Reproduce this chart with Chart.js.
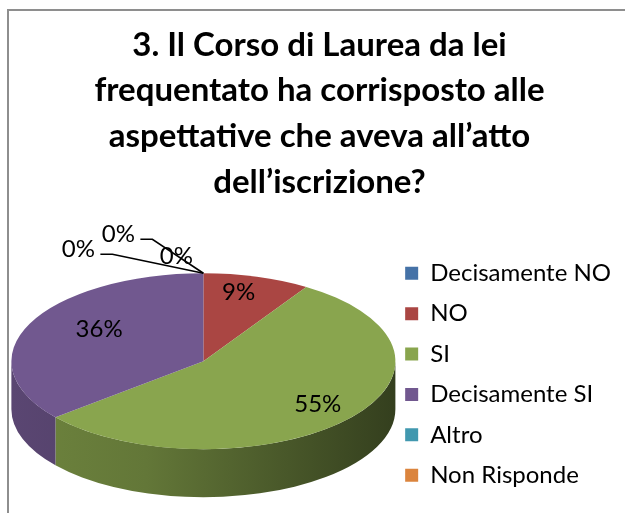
<!DOCTYPE html>
<html>
<head>
<meta charset="utf-8">
<script src="https://cdn.jsdelivr.net/npm/chart.js@4.4.1/dist/chart.umd.min.js"></script>
<style>
  body { margin: 0; background: #fff; }
  #cornice { position: absolute; left: 7px; top: 9px; width: 700px; height: 600px; border: 2px solid #8e8e8e; }
  #grafico { position: absolute; left: 0; top: 0; }
</style>
</head>
<body>
<div id="cornice"></div>
<canvas id="grafico" width="625" height="513"></canvas>
<script>
var titolo = ['3. Il Corso di Laurea da lei', 'frequentato ha corrisposto alle', 'aspettative che aveva all\u2019atto', 'dell\u2019iscrizione?'];
var categorie = ['Decisamente NO', 'NO', 'SI', 'Decisamente SI', 'Altro', 'Non Risponde'];
var valori = [0, 9, 55, 36, 0, 0];
var colori = ['#4572a7', '#aa4643', '#89a54e', '#71588f', '#4198af', '#db843d'];

var FONT = 'Lato';
var RAGGIO_X = 192;   // semiassi dell'ellisse per l'effetto 3D
var RAGGIO_Y = 88;
var SPESSORE = 48;

function scurisci(hex, f) {
    var n = parseInt(hex.slice(1), 16);
    var r = Math.round(((n >> 16) & 255) * f);
    var g = Math.round(((n >> 8) & 255) * f);
    var b = Math.round((n & 255) * f);
    return 'rgb(' + r + ',' + g + ',' + b + ')';
}

var torta3d = {
    id: 'torta3d',
    beforeDatasetsDraw: function(chart) {
        var ctx = chart.ctx;
        var archi = chart.getDatasetMeta(0).data;
        archi.forEach(function(arco, i) {
            var a1 = Math.max(arco.startAngle, 0);
            var a2 = Math.min(arco.endAngle, Math.PI);
            if (a2 <= a1) return;
            var cx = arco.x, cy = arco.y;
            var rx = RAGGIO_X, ry = RAGGIO_Y;
            var grad = ctx.createLinearGradient(cx - rx, 0, cx + rx, 0);
            grad.addColorStop(0, scurisci(colori[i], 0.8));
            grad.addColorStop(0.35, scurisci(colori[i], 0.72));
            grad.addColorStop(1, scurisci(colori[i], 0.38));
            ctx.save();
            ctx.beginPath();
            ctx.ellipse(cx, cy, rx, ry, 0, a1, a2, false);
            ctx.lineTo(cx + rx * Math.cos(a2), cy + SPESSORE + ry * Math.sin(a2));
            ctx.ellipse(cx, cy + SPESSORE, rx, ry, 0, a2, a1, true);
            ctx.closePath();
            ctx.fillStyle = grad;
            ctx.fill();
            ctx.restore();
        });
    },
    beforeDatasetDraw: function(chart) {
        var arco = chart.getDatasetMeta(0).data[0];
        var ctx = chart.ctx;
        ctx.save();
        ctx.translate(arco.x, arco.y);
        ctx.scale(RAGGIO_X / arco.outerRadius, RAGGIO_Y / arco.outerRadius);
        ctx.translate(-arco.x, -arco.y);
    },
    afterDatasetDraw: function(chart) {
        chart.ctx.restore();
    },
    afterDatasetsDraw: function(chart) {
        var ctx = chart.ctx;
        var archi = chart.getDatasetMeta(0).data;
        var totale = valori.reduce(function(a, b) { return a + b; }, 0);
        ctx.save();
        ctx.font = '24px ' + FONT;
        ctx.fillStyle = '#000';
        ctx.textAlign = 'center';
        ctx.textBaseline = 'middle';
        var zeri = 0;
        // posizioni delle etichette degli spicchi nulli, rispetto alla cima della torta
        var spostamenti = [[-125, -24, true], [-85, -39, true], [-27, -17, false]];
        archi.forEach(function(arco, i) {
            var testo = Math.round(valori[i] / totale * 100) + '%';
            var cx = arco.x, cy = arco.y;
            var rx = RAGGIO_X, ry = RAGGIO_Y;
            if (valori[i] > 0) {
                var m = (arco.startAngle + arco.endAngle) / 2;
                var fx = 0.68 + 0.12 * Math.sin(m);
                ctx.fillText(testo, cx + rx * fx * Math.cos(m) + 5, cy + ry * 0.785 * Math.sin(m) - 3);
            } else {
                var s = spostamenti[zeri++];
                var px = cx + rx * Math.cos(arco.startAngle), py = cy + ry * Math.sin(arco.startAngle);
                var lx = px + s[0], ly = py + s[1];
                if (s[2]) {
                    ctx.beginPath();
                    ctx.moveTo(lx + 22, ly + 5);
                    ctx.lineTo(lx + 34, ly + 5);
                    ctx.lineTo(px, py);
                    ctx.strokeStyle = '#000';
                    ctx.lineWidth = 1.6;
                    ctx.stroke();
                }
                ctx.fillText(testo, lx, ly);
            }
        });
        ctx.restore();
    }
};

new Chart(document.getElementById('grafico'), {
    type: 'pie',
    data: {
        labels: categorie,
        datasets: [{
            data: valori,
            backgroundColor: colori,
            borderWidth: 0
        }]
    },
    options: {
        responsive: false,
        animation: false,
        layout: { padding: { left: 18, right: 4, top: 0, bottom: 0 } },
        plugins: {
            title: {
                display: true,
                text: titolo,
                color: '#000',
                font: { family: FONT, size: 33, weight: 'bold', lineHeight: 1.39 },
                padding: { top: 22, bottom: 4 }
            },
            legend: {
                position: 'right',
                fullSize: false,
                title: { display: true, text: '', font: { size: 10, lineHeight: 1 }, padding: { top: 0, bottom: 16 } },
                labels: {
                    color: '#000',
                    font: { family: FONT, size: 24 },
                    boxWidth: 13,
                    boxHeight: 13,
                    padding: 16.4
                }
            },
            tooltip: { enabled: false }
        }
    },
    plugins: [torta3d]
});
</script>
</body>
</html>
